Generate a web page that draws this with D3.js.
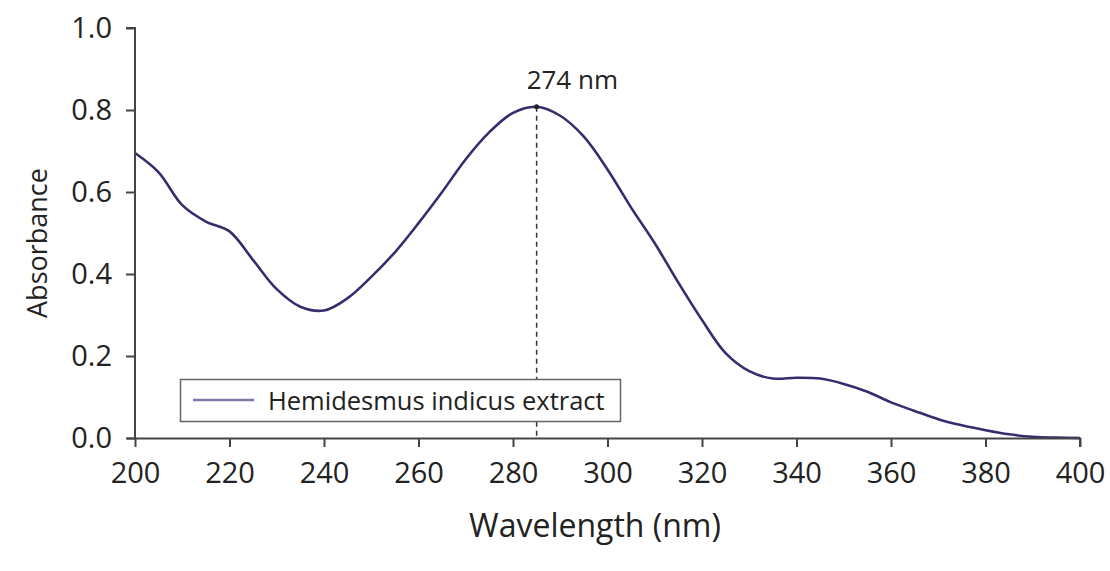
<!DOCTYPE html>
<html>
<head>
<meta charset="utf-8">
<script src="https://cdn.jsdelivr.net/npm/d3@7"></script>
<style>
  html, body { margin: 0; padding: 0; background: #fff; }
  svg text { font-family: "Open Sans", "DejaVu Sans", sans-serif; fill: #222; }
</style>
</head>
<body>
<svg id="chart" width="1110" height="571"></svg>
<script>
// UV-Vis absorbance spectrum of the extract
const wavelengths = [200,205,210,215,220,225,230,235,240,245,250,255,260,265,270,275,280,285,290,295,
                     300,305,310,315,320,325,330,335,340,345,350,355,360,365,370,375,380,385,390,395,400];
const absorbance  = [0.695,0.648,0.568,0.528,0.504,0.434,0.363,0.320,0.311,0.341,0.393,0.453,0.524,0.600,0.680,0.746,0.793,0.808,0.786,0.735,
                     0.655,0.562,0.475,0.379,0.288,0.207,0.163,0.145,0.147,0.145,0.132,0.113,0.087,0.066,0.046,0.031,0.019,0.009,0.003,0.001,0.000];
const xTicks = [200,220,240,260,280,300,320,340,360,380,400];
const yTicks = [0.0,0.2,0.4,0.6,0.8,1.0];
const seriesName = "Hemidesmus indicus extract";
const peakLabel = "274 nm";

const svg = d3.select("#chart");
const margin = {left: 135, right: 30, top: 28, bottom: 133};
const W = 1110, H = 571;

const x = d3.scaleLinear().domain([200, 400]).range([margin.left, W - margin.right]);
const y = d3.scaleLinear().domain([0, 1]).range([H - margin.bottom, margin.top]);

const data = wavelengths.map((w, i) => ({w, a: absorbance[i]}));
const peak = data.reduce((m, d) => d.a > m.a ? d : m, data[0]);

// dashed drop line at the absorbance maximum
svg.append("line")
  .attr("x1", x(peak.w)).attr("x2", x(peak.w))
  .attr("y1", y(peak.a)).attr("y2", y(0))
  .attr("stroke", "#333").attr("stroke-width", 1.5)
  .attr("stroke-dasharray", "5,4");

// spectrum
svg.append("path")
  .datum(data)
  .attr("fill", "none")
  .attr("stroke", "#3b2b6e")
  .attr("stroke-width", 2.6)
  .attr("d", d3.line().x(d => x(d.w)).y(d => y(d.a)).curve(d3.curveCatmullRom.alpha(0.5)));

svg.append("circle")
  .attr("cx", x(peak.w)).attr("cy", y(peak.a)).attr("r", 2.5).attr("fill", "#222");

svg.append("text")
  .attr("x", x(peak.w) - 10).attr("y", 89)
  .attr("font-size", 26)
  .text(peakLabel);

// axes
const xAxis = svg.append("g")
  .attr("transform", `translate(0,${y(0)})`)
  .call(d3.axisBottom(x).tickValues(xTicks).tickSize(9).tickPadding(15).tickFormat(d3.format("d")));
const yAxis = svg.append("g")
  .attr("transform", `translate(${x(200)},0)`)
  .call(d3.axisLeft(y).tickValues(yTicks).tickSize(9).tickPadding(14).tickFormat(d3.format(".1f")));

[xAxis, yAxis].forEach(g => {
  g.select(".domain").attr("stroke", "#444").attr("stroke-width", 2);
  g.selectAll(".tick line").attr("stroke", "#444").attr("stroke-width", 2);
  g.selectAll(".tick text").attr("font-size", 29).attr("fill", "#222")
    .attr("font-family", "'Open Sans', 'DejaVu Sans', sans-serif");
});
xAxis.select(".domain").attr("d", `M${x(200) - 8},0.5H${x(400)}V9`);
yAxis.select(".domain").attr("d", `M-9,${y(1)}H0V${y(0)}`);

// axis titles
svg.append("text")
  .attr("x", 595).attr("y", 537)
  .attr("text-anchor", "middle").attr("font-size", 32)
  .text("Wavelength (nm)");
svg.append("text")
  .attr("transform", `translate(47,${(y(0) + y(1)) / 2 + 10}) rotate(-90)`)
  .attr("text-anchor", "middle").attr("font-size", 27)
  .text("Absorbance");

// legend
const lg = svg.append("g");
lg.append("rect")
  .attr("x", 180.5).attr("y", 379.5).attr("width", 440).attr("height", 42)
  .attr("fill", "#fff").attr("stroke", "#666").attr("stroke-width", 1.5);
lg.append("line")
  .attr("x1", 193).attr("x2", 254).attr("y1", 400).attr("y2", 400)
  .attr("stroke", "#8576a8").attr("stroke-width", 2.5);
lg.append("text")
  .attr("x", 268).attr("y", 410).attr("font-size", 25.5)
  .text(seriesName);
</script>
</body>
</html>
